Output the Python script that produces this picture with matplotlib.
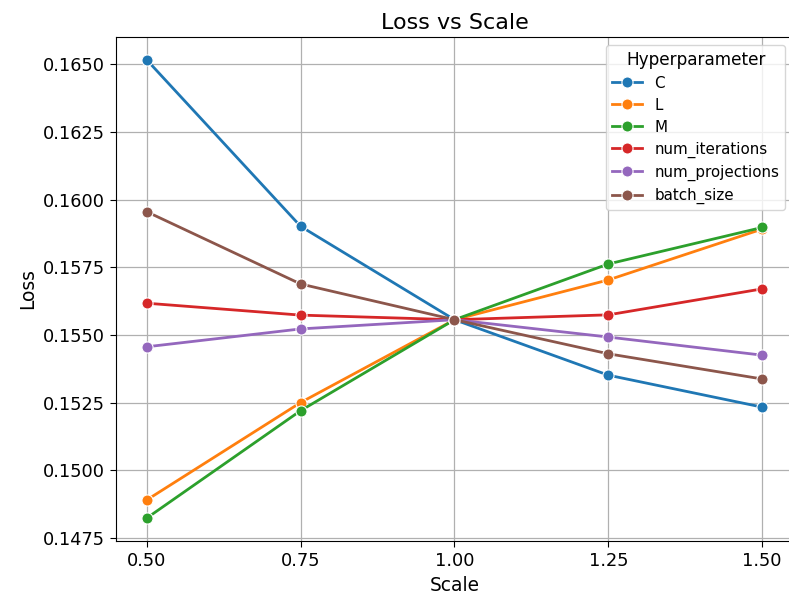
import matplotlib.pyplot as plt

# loss at each scale factor, one series per hyperparameter
scales = [0.50, 0.75, 1.00, 1.25, 1.50]
hyperparams = ['C', 'L', 'M', 'num_iterations', 'num_projections', 'batch_size']
loss_C = [0.16516, 0.15901, 0.15556, 0.15351, 0.15233]
loss_L = [0.14890, 0.15250, 0.15556, 0.15703, 0.15891]
loss_M = [0.14823, 0.15220, 0.15556, 0.15762, 0.15897]
loss_iter = [0.15617, 0.15573, 0.15556, 0.15574, 0.15670]
loss_proj = [0.15456, 0.15522, 0.15556, 0.15492, 0.15425]
loss_batch = [0.15955, 0.15688, 0.15556, 0.15430, 0.15337]
losses = [loss_C, loss_L, loss_M, loss_iter, loss_proj, loss_batch]
colors = ['#1f77b4', '#ff7f0e', '#2ca02c', '#d62728', '#9467bd', '#8c564b']

fig = plt.figure(figsize=(7.89, 5.98), dpi=100)
ax = fig.add_axes([116 / 789, 57 / 598, 677 / 789, 504 / 598])

for name, vals, c in zip(hyperparams, losses, colors):
    ax.plot(scales, vals, color=c, lw=2, marker='o', ms=8,
            mec='white', mew=0.8, label=name)

ax.set_xticks(scales)
ax.set_xticklabels(['0.50', '0.75', '1.00', '1.25', '1.50'])
ax.margins(x=0.05, y=0.05)
ax.spines['right'].set_visible(False)
ax.grid(True, color='#b0b0b0', lw=0.9)
ax.set_axisbelow(True)
ax.tick_params(labelsize=12.8, length=4.5)
ax.set_xlabel('Scale', fontsize=13.4)
ax.set_ylabel('Loss', fontsize=13.4)
ax.set_title('Loss vs Scale', fontsize=16)
ax.legend(title='Hyperparameter', loc='upper right', fontsize=10.9,
          title_fontsize=12.2, labelspacing=0.46)

fig.savefig('out.png', dpi=100)
